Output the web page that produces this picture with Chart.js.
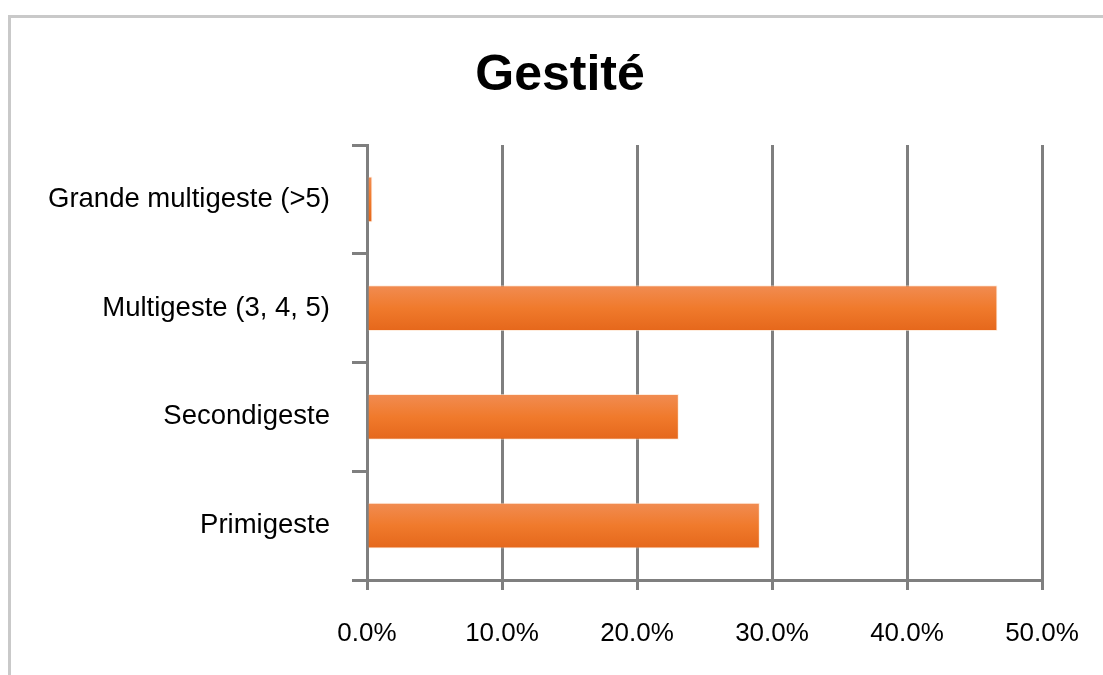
<!DOCTYPE html>
<html lang="fr">
<head>
<meta charset="UTF-8">
<title>Gestité</title>
<style>
  html, body { margin: 0; padding: 0; background: #fff; }
  #wrap { position: relative; width: 1103px; height: 675px; }
  #frame {
    position: absolute; left: 8px; top: 15px; right: 0; bottom: 0;
    border-left: 3px solid #c9c9c9; border-top: 3px solid #c9c9c9;
    pointer-events: none;
  }
</style>
</head>
<body>
<div id="wrap">
  <canvas id="gestite" width="1103" height="675"></canvas>
  <div id="frame"></div>
</div>

<script src="https://cdn.jsdelivr.net/npm/chart.js"></script>
<script>
  // catégories (de haut en bas) et pourcentages
  const categories = ["Grande multigeste (>5)", "Multigeste (3, 4, 5)", "Secondigeste", "Primigeste"];
  const pourcentages = [0.4, 46.7, 23.1, 29.1];
  const xTicks = [0, 10, 20, 30, 40, 50];

  const gris = "#7f7f7f";
  const police = "'Liberation Sans', Arial, sans-serif";

  // dégradé orange vertical sur chaque barre
  const degradeBarres = {
    id: "degradeBarres",
    beforeDatasetsDraw(chart) {
      const ctx = chart.ctx;
      chart.getDatasetMeta(0).data.forEach(bar => {
        const top = bar.y - bar.height / 2;
        const g = ctx.createLinearGradient(0, top, 0, top + bar.height);
        g.addColorStop(0, "#f18c52");
        g.addColorStop(0.5, "#f07a2c");
        g.addColorStop(1, "#e5671b");
        bar.options.backgroundColor = g;
      });
    }
  };

  // titre centré un peu à droite du milieu du canvas
  const centrageTitre = {
    id: "centrageTitre",
    afterLayout(chart) {
      const t = chart.titleBlock;
      if (!t) return;
      t.left = 0;
      t.right = 1120;
      t.width = 1120;
    }
  };

  new Chart(document.getElementById("gestite"), {
    type: "bar",
    data: {
      labels: categories,
      datasets: [{
        data: pourcentages,
        // fonction => options propres à chaque barre (pas partagées)
        backgroundColor: () => "#f07a2c",
        borderColor: "rgba(255,225,200,0.6)",
        borderWidth: 1,
        barPercentage: 0.42,
        categoryPercentage: 1.0
      }]
    },
    options: {
      indexAxis: "y",
      responsive: false,
      animation: false,
      layout: { padding: { left: 0, right: 61, top: 0, bottom: 0 } },
      plugins: {
        legend: { display: false },
        tooltip: { enabled: false },
        title: {
          display: true,
          text: "Gestité",
          color: "#000",
          font: { family: police, size: 50, weight: "bold" },
          padding: { top: 46, bottom: 39 }
        }
      },
      scales: {
        x: {
          min: 0,
          max: 50,
          afterBuildTicks: scale => { scale.ticks = xTicks.map(v => ({ value: v })); },
          afterFit: scale => {
            scale.height = 95;
            scale.paddingLeft = 0;
            scale.paddingRight = 0;
          },
          grid: { color: gris, lineWidth: 3, tickLength: 10, drawTicks: true },
          border: { color: gris, width: 3 },
          ticks: {
            color: "#000",
            padding: 28,
            maxRotation: 0,
            font: { family: police, size: 26 },
            callback: v => Number(v).toFixed(1) + "%"
          }
        },
        y: {
          afterFit: scale => { scale.width = 367; },
          grid: { color: gris, lineWidth: 3, drawOnChartArea: false, drawTicks: true, tickLength: 15, offset: true },
          border: { color: gris, width: 3 },
          ticks: {
            color: "#000",
            padding: 22,
            font: { family: police, size: 27.5 }
          }
        }
      }
    },
    plugins: [degradeBarres, centrageTitre]
  });
</script>
</body>
</html>
